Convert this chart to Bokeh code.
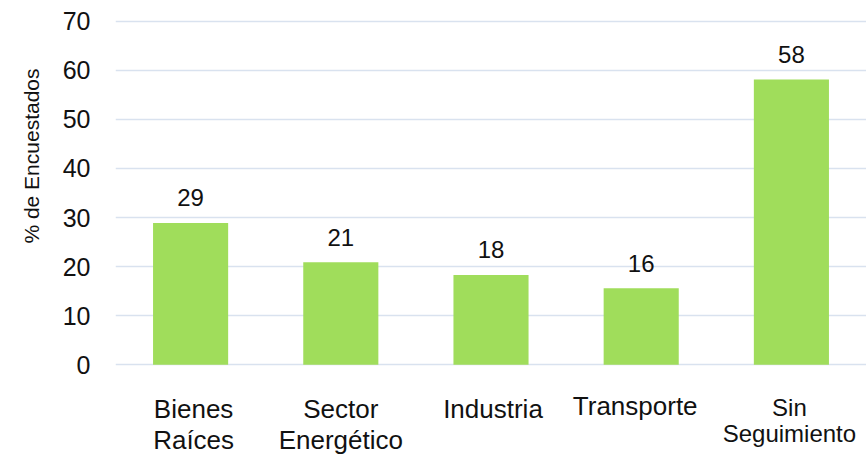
from bokeh.plotting import figure
from bokeh.models import ColumnDataSource, FixedTicker, Title
from bokeh.core.properties import value
from bokeh.embed import file_html
from bokeh.resources import INLINE

# ---- data ----
categories = ["Bienes Raíces", "Sector Energético", "Industria", "Transporte", "Sin Seguimiento"]
values = [28.9, 20.9, 18.3, 15.6, 58.1]
value_labels = ["29", "21", "18", "16", "58"]
label_line1 = ["Bienes", "Sector", "Industria", "Transporte", "Sin"]
label_line2 = ["Raíces", "Energético", "", "", "Seguimiento"]
y_ticks = [0, 10, 20, 30, 40, 50, 60, 70]
y_title = "% de Encuestados"

FONT = "Liberation Sans"
TXT = "#111111"
BAR = "#a0dd5b"
GRID = "#d9e2ef"

src = ColumnDataSource(dict(
    cat=categories,
    val=values,
    lab=value_labels,
    l1=label_line1,
    l2=label_line2,
    size1=["26px", "26px", "26px", "26px", "24px"],
    size2=["26px", "26px", "26px", "26px", "24px"],
    off1=[44, 44, 44, 41, 43],
    off2=[75, 75, 75, 75, 69],
    dx1=[3, 0, 2, -6, -2],
    dx2=[3, 0, 2, -6, -2],
))

p = figure(x_range=categories, y_range=(-18.27, 71.77), width=866, height=454,
           output_backend="svg", toolbar_location=None,
           min_border_left=115, min_border_right=0, min_border_top=12, min_border_bottom=0)
p.outline_line_color = None
p.background_fill_color = "white"
p.border_fill_color = "white"

p.vbar(x="cat", top="val", bottom=0, width=0.5, source=src,
       fill_color=BAR, line_color=None)

# value labels above bars
p.text(x="cat", y="val", text="lab", source=src, text_align="center",
       text_baseline="alphabetic", y_offset=-25, text_font=value(FONT),
       text_font_size="24px", text_color=TXT)

# category labels (two lines)
p.text(x="cat", y=0, text="l1", source=src, text_align="center",
       text_baseline="alphabetic", x_offset="dx1", y_offset="off1", text_font=value(FONT),
       text_font_size="size1", text_color=TXT)
p.text(x="cat", y=0, text="l2", source=src, text_align="center",
       text_baseline="alphabetic", x_offset="dx2", y_offset="off2", text_font=value(FONT),
       text_font_size="size2", text_color=TXT)

p.xaxis.visible = False
p.xgrid.grid_line_color = None

p.yaxis.ticker = FixedTicker(ticks=y_ticks)
p.ygrid.ticker = FixedTicker(ticks=y_ticks)
p.ygrid.grid_line_color = GRID
p.ygrid.grid_line_width = 1.5
p.yaxis.axis_line_color = None
p.yaxis.major_tick_line_color = None
p.yaxis.minor_tick_line_color = None
p.yaxis.major_label_standoff = 19
p.yaxis.major_label_text_font = FONT
p.yaxis.major_label_text_font_size = "25px"
p.yaxis.major_label_text_color = TXT

p.add_layout(Title(text=y_title, align="right", offset=56, standoff=34,
                   text_font=FONT, text_font_size="21px", text_font_style="normal",
                   text_color=TXT), "left")

open("out.html", "w").write(file_html(p, INLINE))
